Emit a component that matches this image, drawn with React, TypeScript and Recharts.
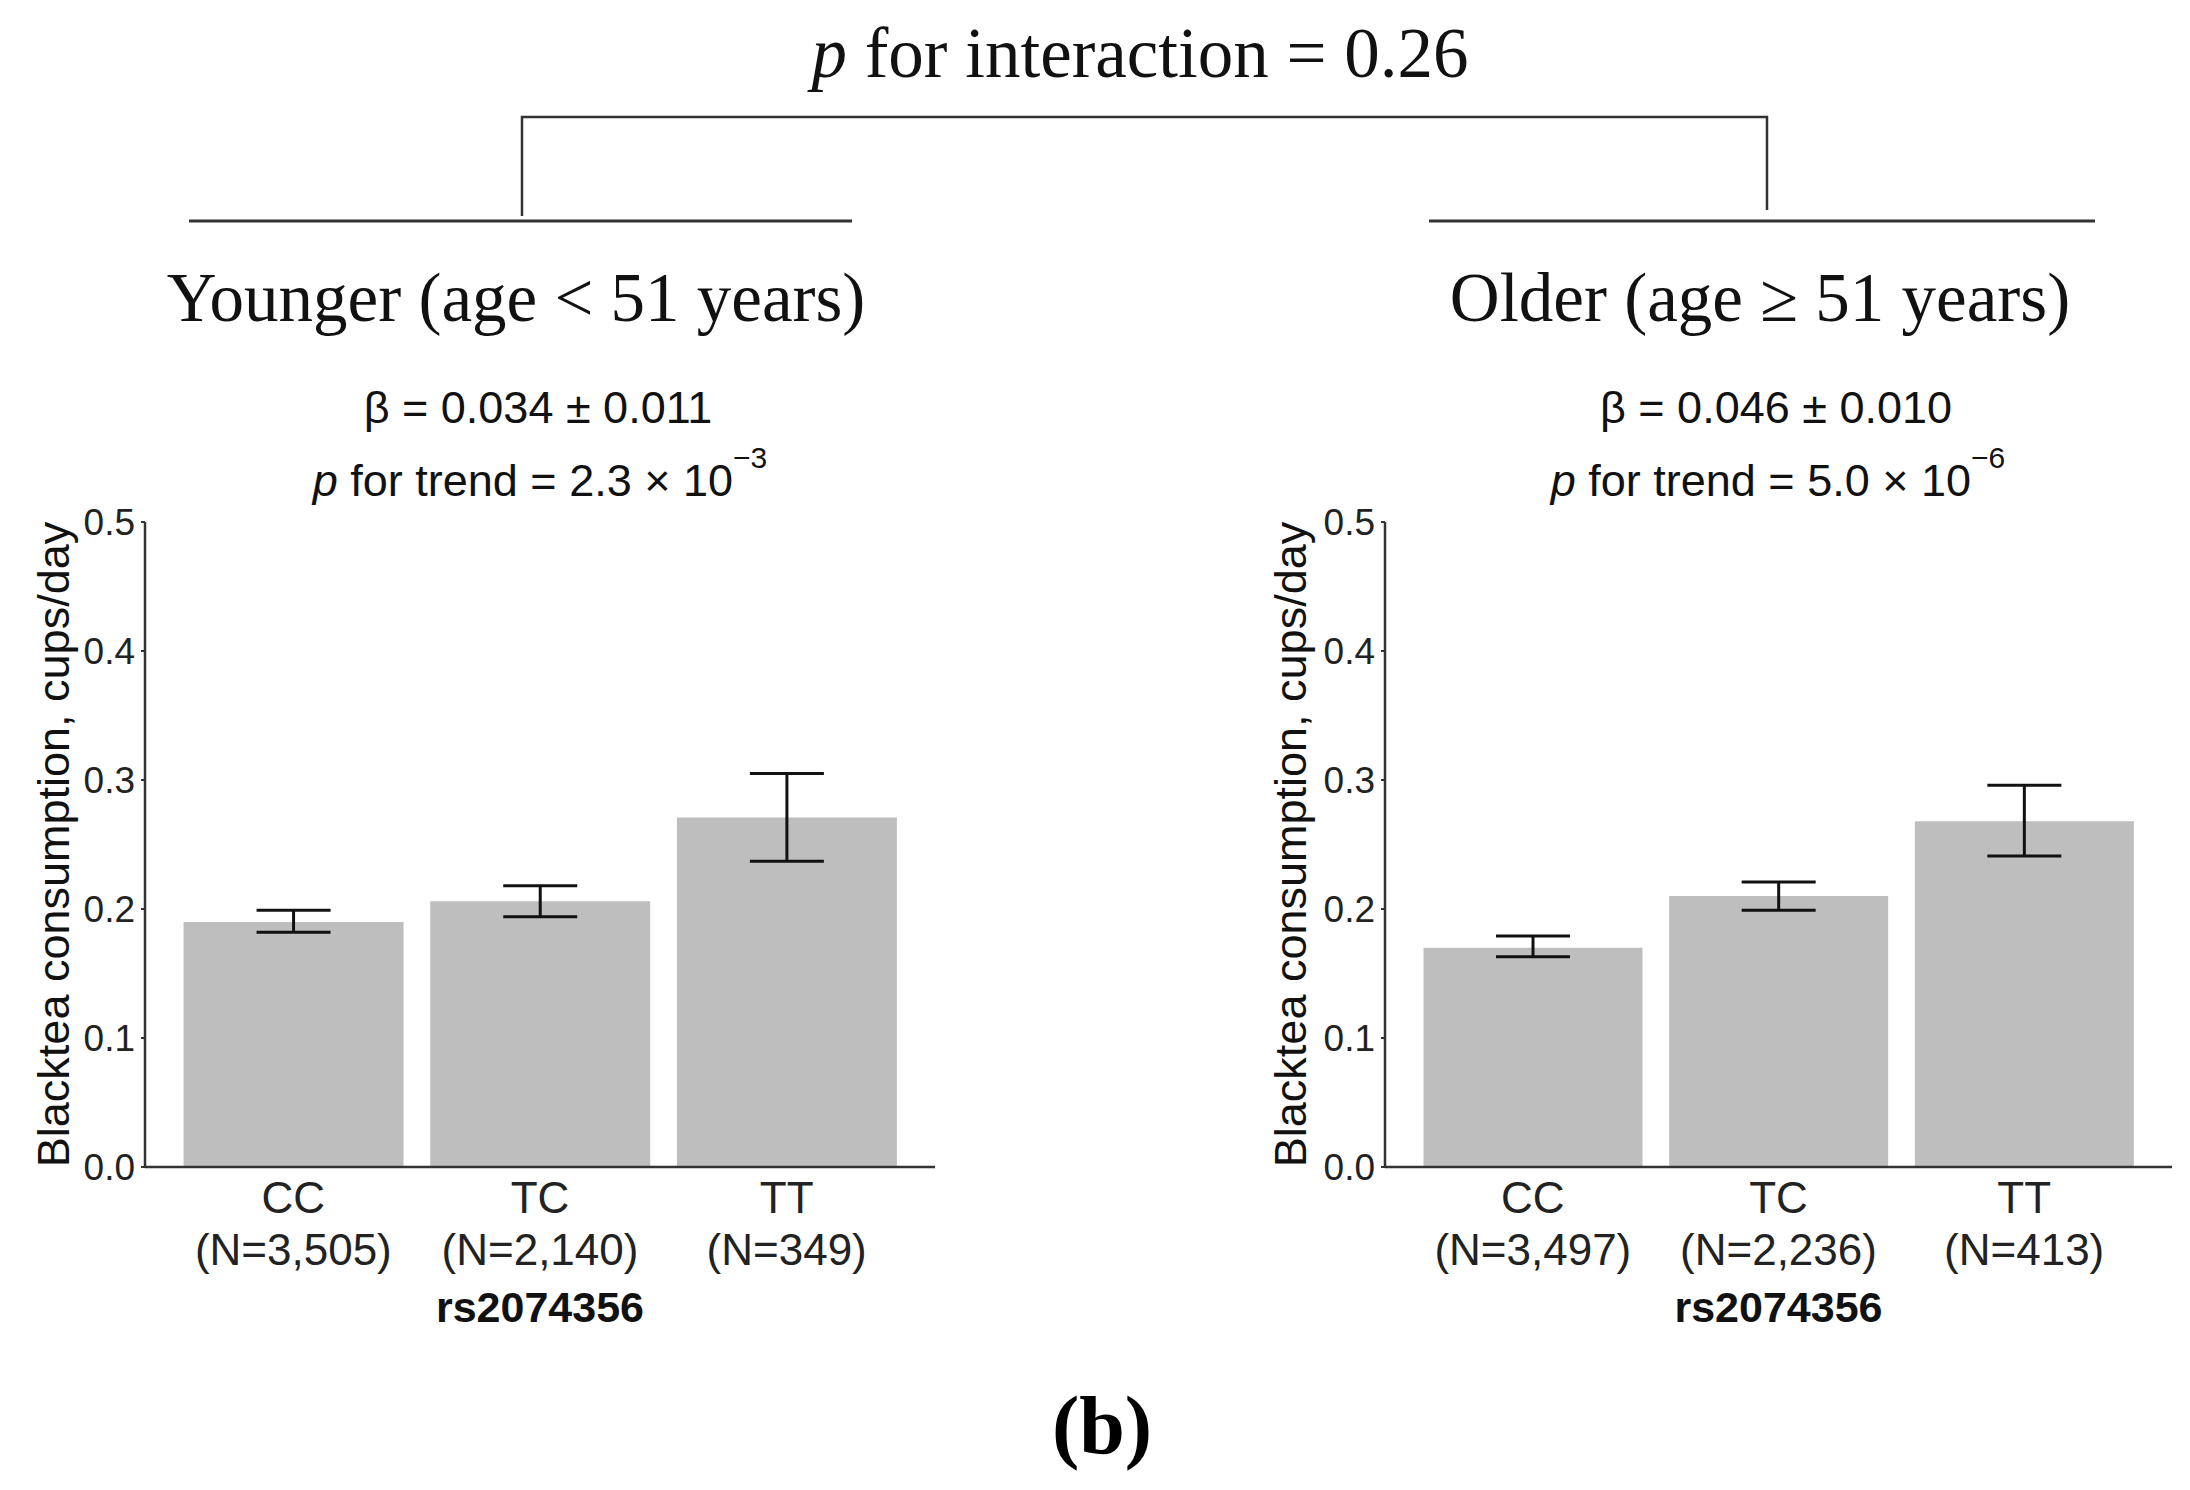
import React from 'react';
import { BarChart, Bar, XAxis, YAxis, ErrorBar } from 'recharts';

const genotypes = ['CC', 'TC', 'TT'];
const youngerN = ['(N=3,505)', '(N=2,140)', '(N=349)'];
const olderN = ['(N=3,497)', '(N=2,236)', '(N=413)'];
const youngerMean = [0.19, 0.206, 0.271];
const youngerLower = [0.182, 0.194, 0.237];
const youngerUpper = [0.199, 0.218, 0.305];
const olderMean = [0.17, 0.21, 0.268];
const olderLower = [0.163, 0.199, 0.241];
const olderUpper = [0.179, 0.221, 0.296];
const yTicks = [0, 0.1, 0.2, 0.3, 0.4, 0.5];
const xAxisTitle = 'rs2074356';
const yAxisTitle = 'Blacktea consumption, cups/day';

const SANS = '"Liberation Sans", Arial, sans-serif';
const SERIF = '"Liberation Serif", "Times New Roman", serif';
const AXIS = '#333333';

type Row = { genotype: string; n: string; mean: number; err: [number, number] };

function buildRows(mean: number[], lower: number[], upper: number[], ns: string[]): Row[] {
  return genotypes.map((g, i) => ({
    genotype: g,
    n: ns[i],
    mean: mean[i],
    err: [mean[i] - lower[i], upper[i] - mean[i]],
  }));
}

const youngerRows = buildRows(youngerMean, youngerLower, youngerUpper, youngerN);
const olderRows = buildRows(olderMean, olderLower, olderUpper, olderN);

function Panel({ left, width, rightMargin, rows, yLabelDx }: { left: number; width: number; rightMargin: number; rows: Row[]; yLabelDx: number }) {
  return (
    <div style={{ position: 'absolute', left, top: 480, width, height: 860 }}>
      <BarChart
        width={width}
        height={860}
        data={rows}
        margin={{ top: 42, right: rightMargin, bottom: 53, left: 0 }}
        barCategoryGap="5.5%"
      >
        <XAxis
          dataKey="genotype"
          padding={{ left: 25, right: 25 }}
          height={120}
          tickLine={false}
          tickSize={0}
          tickMargin={0}
          axisLine={{ stroke: AXIS, strokeWidth: 2.5 }}
          interval={0}
          tick={(props: any) => {
            const { x, y, index, payload } = props;
            const row = rows[index] || rows.find((r) => r.genotype === payload.value);
            return (
              <g>
                <text x={x} y={y + 46} textAnchor="middle" fontFamily={SANS} fontSize={44} fill="#222">
                  {payload.value}
                </text>
                <text x={x} y={y + 98} textAnchor="middle" fontFamily={SANS} fontSize={44} fill="#222">
                  {row ? row.n : ''}
                </text>
              </g>
            );
          }}
          label={{
            content: (p: any) => {
              const vb = p.viewBox || {};
              return (
                <text
                  x={vb.x + vb.width / 2}
                  y={vb.y + 155}
                  textAnchor="middle"
                  fontFamily={SANS}
                  fontWeight="bold"
                  fontSize={43}
                  fill="#111"
                >
                  {xAxisTitle}
                </text>
              );
            },
          }}
        />
        <YAxis
          type="number"
          domain={[0, 0.5]}
          ticks={yTicks}
          width={145}
          tickSize={4}
          tickMargin={6}
          tickLine={{ stroke: AXIS, strokeWidth: 2 }}
          axisLine={{ stroke: AXIS, strokeWidth: 2.5 }}
          tickFormatter={(v: number) => v.toFixed(1)}
          tick={{ fontFamily: SANS, fontSize: 37, fill: '#222' }}
          label={{
            content: (p: any) => {
              const vb = p.viewBox || {};
              const cx = vb.x + yLabelDx;
              const cy = vb.y + vb.height / 2;
              return (
                <text
                  x={cx}
                  y={cy}
                  transform={`rotate(-90, ${cx}, ${cy})`}
                  textAnchor="middle"
                  dominantBaseline="central"
                  fontFamily={SANS}
                  fontSize={45}
                  fill="#111"
                >
                  {yAxisTitle}
                </text>
              );
            },
          }}
        />
        <Bar dataKey="mean" fill="#BEBEBE" isAnimationActive={false}>
          <ErrorBar dataKey="err" width={37} stroke="#111" strokeWidth={3} isAnimationActive={false} />
        </Bar>
      </BarChart>
    </div>
  );
}

export default function App() {
  return (
    <div style={{ position: 'absolute', left: 0, top: 0, width: 2190, height: 1490, background: '#fff' }}>
      <svg width={2190} height={1490} style={{ position: 'absolute', left: 0, top: 0 }}>
        <text x={1140} y={77} textAnchor="middle" fontFamily={SERIF} fontSize={71} fill="#111">
          <tspan fontStyle="italic">p</tspan>
          <tspan> for interaction = 0.26</tspan>
        </text>
        <path d="M522,216 V117 H1767 V210" fill="none" stroke={AXIS} strokeWidth={2.5} />
        <line x1={189} y1={221} x2={852} y2={221} stroke={AXIS} strokeWidth={3} />
        <line x1={1429} y1={221} x2={2095} y2={221} stroke={AXIS} strokeWidth={3} />

        <text x={516} y={321} textAnchor="middle" fontFamily={SERIF} fontSize={69} fill="#111">
          Younger (age &lt; 51 years)
        </text>
        <text x={1760} y={321} textAnchor="middle" fontFamily={SERIF} fontSize={69} fill="#111">
          Older (age ≥ 51 years)
        </text>

        <text x={538} y={423} textAnchor="middle" fontFamily={SANS} fontSize={45} fill="#111">
          β = 0.034 ± 0.011
        </text>
        <text x={540} y={496} textAnchor="middle" fontFamily={SANS} fontSize={45} fill="#111">
          <tspan fontStyle="italic">p</tspan>
          <tspan> for trend = 2.3 × 10</tspan>
          <tspan fontSize={30} dy={-28}>−3</tspan>
        </text>

        <text x={1776} y={423} textAnchor="middle" fontFamily={SANS} fontSize={45} fill="#111">
          β = 0.046 ± 0.010
        </text>
        <text x={1778} y={496} textAnchor="middle" fontFamily={SANS} fontSize={45} fill="#111">
          <tspan fontStyle="italic">p</tspan>
          <tspan> for trend = 5.0 × 10</tspan>
          <tspan fontSize={30} dy={-28}>−6</tspan>
        </text>

        <text x={1102} y={1453} textAnchor="middle" fontFamily={SERIF} fontWeight="bold" fontSize={82} fill="#000">
          (b)
        </text>
      </svg>
      <Panel left={0} width={960} rightMargin={25} rows={youngerRows} yLabelDx={53} />
      <Panel left={1240} width={950} rightMargin={18} rows={olderRows} yLabelDx={50} />
    </div>
  );
}
